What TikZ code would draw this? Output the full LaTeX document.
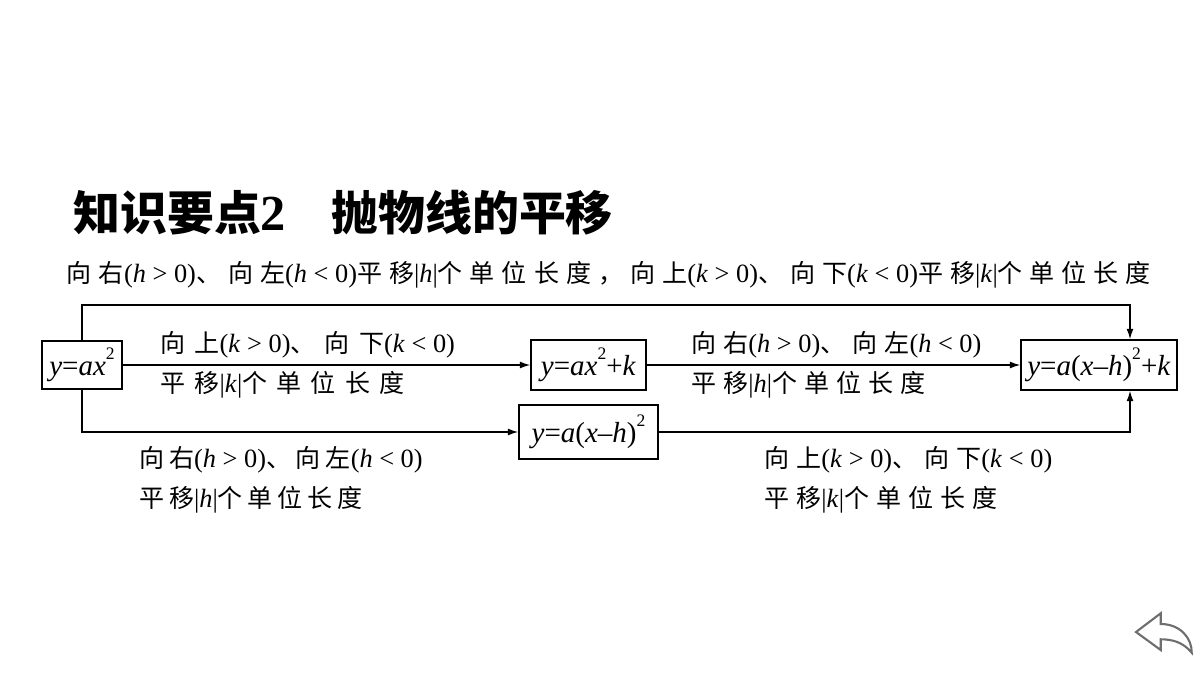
\documentclass[tikz,border=0pt]{standalone}
\usepackage{fontspec}
\setmainfont{Liberation Serif}
\newfontfamily\cjk{Noto Sans CJK SC}[Scale=0.95,LetterSpace=28]
\newfontfamily\cjkw{Noto Sans CJK SC}[Scale=0.95,LetterSpace=37]
\newfontfamily\cjkn{Noto Sans CJK SC}[Scale=0.95,LetterSpace=19]
\newfontfamily\cjkt{Noto Sans CJK SC}[Scale=0.93]
\usetikzlibrary{arrows.meta,positioning}
\definecolor{ShiftGray}{HTML}{6E6E6E}
\newcommand{\zh}[1]{{\cjk #1}}
\newcommand{\zw}[1]{{\cjkw #1}}
\newcommand{\zn}[1]{{\cjkn #1}}
\newcommand{\vi}[1]{\textit{#1}}
\newcommand{\sq}{\raisebox{0.55em}{\fontsize{10}{10}\selectfont 2}}

\begin{document}
\begin{tikzpicture}[x=0.02cm,y=-0.02cm,font=\fontsize{15}{18}\selectfont,
  box/.style={draw,line width=0.8pt,inner sep=0pt,font=\fontsize{16.5}{19}\selectfont},
  lab/.style={anchor=west,inner sep=0pt},
  arr/.style={line width=0.8pt,-{Latex[length=6pt,width=4pt]}}]
  \useasboundingbox (0,0) rectangle (1200,675);
  \node[lab,font=\fontsize{28.7}{32}\selectfont] (title) at (73,213)
    {{\cjkt\bfseries 知识要点}\textbf{2}\hspace{0.9em}{\cjkt\bfseries 抛物线的平移}};
  \node[inner sep=0pt] (toplab) at (609,275)
    {\zh{向右}(\vi{h} > 0)\zh{、向左}(\vi{h} < 0)\zh{平移}|\vi{h}|\zh{个单位长度，向上}(\vi{k} > 0)\zh{、向下}(\vi{k} < 0)\zh{平移}|\vi{k}|\zh{个单位长度}};
  % the four parabolas
  \node[box,minimum width=1.6cm,minimum height=0.96cm] (p0) at (82,365) {\vi{y}=\vi{a}\vi{x}\sq};
  \node[box,minimum width=2.3cm,minimum height=1.0cm] (pk) at (588.5,365) {\vi{y}=\vi{a}\vi{x}\sq+\vi{k}};
  \node[box,minimum width=3.12cm,minimum height=1.0cm] (phk) at (1099,365) {\vi{y}=\vi{a}(\vi{x}–\vi{h})\sq+\vi{k}};
  \node[box,minimum width=2.78cm,minimum height=1.08cm] (ph) at (588.5,432) {\vi{y}=\vi{a}(\vi{x}–\vi{h})\sq};
  \coordinate (bend) at (1130,305);
  \draw[arr] (p0.east) -- (pk.west);
  \draw[arr] (pk.east) -- (phk.west);
  \draw[arr] (p0.north) |- (bend) -- (bend |- phk.north);
  \draw[arr] (p0.south) |- (ph.west);
  \draw[arr] (ph.east) -| (bend |- phk.south);
  % labels of the shifts
  \node[lab] (upk1) at (160,345) {\zw{向上}(\vi{k} > 0)\zw{、向下}(\vi{k} < 0)};
  \node[lab] (upk2) at (160,385) {\zw{平移}|\vi{k}|\zw{个单位长度}};
  \node[lab] (uph1) at (691,345) {\zh{向右}(\vi{h} > 0)\zh{、向左}(\vi{h} < 0)};
  \node[lab] (uph2) at (691,385) {\zh{平移}|\vi{h}|\zh{个单位长度}};
  \node[lab] (loh1) at (139,460) {\zn{向右}(\vi{h} > 0)\zn{、向左}(\vi{h} < 0)};
  \node[lab] (loh2) at (139,500) {\zn{平移}|\vi{h}|\zn{个单位长度}};
  \node[lab] (lok1) at (764,460) {\zh{向上}(\vi{k} > 0)\zh{、向下}(\vi{k} < 0)};
  \node[lab] (lok2) at (764,500) {\zh{平移}|\vi{k}|\zh{个单位长度}};
  % back button
  \draw[ShiftGray,line width=1.2pt] (1136,632) -- (1160.7,613.3) -- (1160.7,624)
    .. controls (1180,624) and (1192,638) .. (1191.7,652.7)
    .. controls (1183,642) and (1172,639.3) .. (1160.7,639.3) -- (1160.7,650) -- cycle;
\end{tikzpicture}
\end{document}
